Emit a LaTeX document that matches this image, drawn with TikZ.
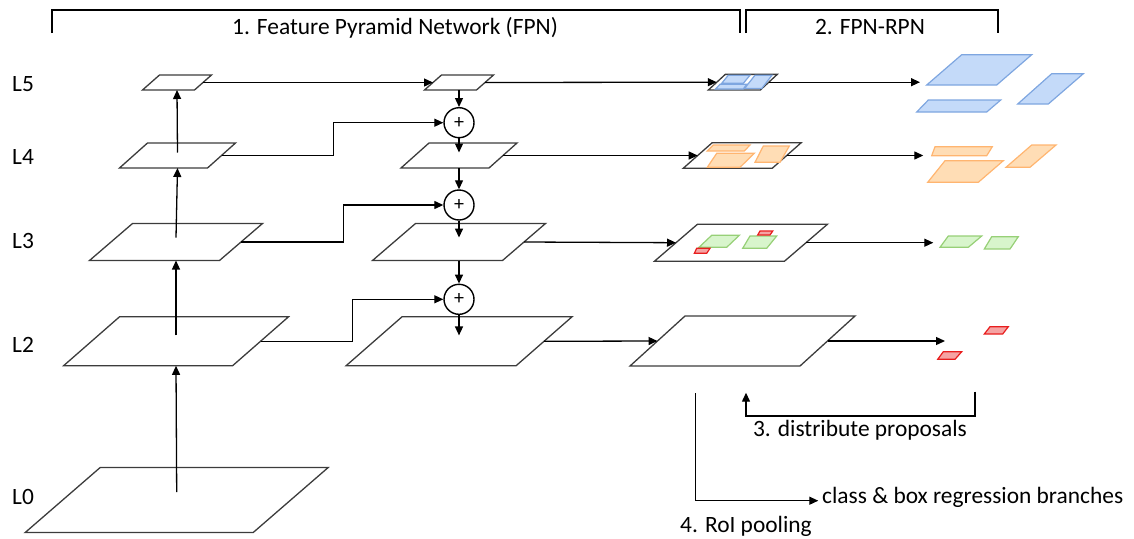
\documentclass[tikz,border=0pt]{standalone}
\usepackage{fontspec}
\setmainfont{Carlito}
\usetikzlibrary{arrows.meta,calc}

\definecolor{blueF}{HTML}{C4DAF9}
\definecolor{blueD}{HTML}{7EA6E0}
\definecolor{orangeF}{HTML}{FFDDB5}
\definecolor{orangeD}{HTML}{FFB570}
\definecolor{greenF}{HTML}{D8F5CC}
\definecolor{greenD}{HTML}{97D077}
\definecolor{redF}{HTML}{F5A3A3}
\definecolor{redD}{HTML}{E81E1E}
\definecolor{planeD}{HTML}{3C3C3C}

\tikzset{
  plane/.style={draw=planeD, fill=white, line width=1.3pt, line join=miter},
  flow/.style={draw=black, line width=1.3pt, -{Triangle[length=9pt,width=8pt]}},
  bracket/.style={draw=black, line width=1.8pt},
  sumnode/.style={circle, draw=black, line width=1.4pt, fill=white, minimum size=30pt, inner sep=0pt, font=\fontsize{20}{20}\selectfont},
  label/.style={font=\fontsize{23.4}{26}\selectfont, inner sep=0pt},
  pblue/.style={draw=blueD, fill=blueF, line width=1.2pt},
  porange/.style={draw=orangeD, fill=orangeF, line width=1.2pt},
  pgreen/.style={draw=greenD, fill=greenF, line width=1.2pt},
  pred/.style={draw=redD, fill=redF, line width=1.2pt},
}

% feature map: name, centre x, centre y, width, skew, height
\newcommand\layerplane[6]{%
  \path (#2,#3) coordinate (#1)
    ({#2-#4/2},#3) coordinate (#1-l)
    ({#2+#4/2},#3) coordinate (#1-r)
    (#2,{#3+#6/2}) coordinate (#1-b)
    (#2,{#3-#6/2}) coordinate (#1-t)
    (#2,{#3-0.12*#6}) coordinate (#1-s);
  \draw[plane] ({#2-#4/2-#5/2},{#3+#6/2}) -- ++(#4,0) -- ++(#5,-#6) -- ++(-#4,0) -- cycle;
}
% proposal box: style, four corners
\newcommand\propbox[5]{\draw[#1] (#2) -- (#3) -- (#4) -- (#5) -- cycle;}

\begin{document}
\begin{tikzpicture}[x=1pt, y=-1pt]
\useasboundingbox (0,0) rectangle (1134,538);

% ---- level labels
\node[label, anchor=base west] (lab5) at (12,91.5) {L5};
\node[label, anchor=base west] (lab4) at (12,164.5) {L4};
\node[label, anchor=base west] (lab3) at (12,248.5) {L3};
\node[label, anchor=base west] (lab2) at (12,352.5) {L2};
\node[label, anchor=base west] (lab0) at (12,504.5) {L0};

% ---- bottom-up pathway
\layerplane{A5}{177}{82.5}{52}{17}{15}
\layerplane{A4}{177.5}{155.5}{88}{28}{25}
\layerplane{A3}{176}{242}{130}{43}{37}
\layerplane{A2}{176}{341.3}{169}{56}{49}
\layerplane{A0}{176.7}{500}{228}{75}{65}

\draw[flow] (A0-s) -- (A2-b);
\draw[flow] (A2-s) -- (A3-b);
\draw[flow] (A3-s) -- (A4-b);
\draw[flow] (A4-s) -- (A5-b);

% ---- top-down pathway
\layerplane{B5}{459}{82.5}{52}{17}{15}
\layerplane{B4}{459}{155.5}{88}{28}{25}
\layerplane{B3}{459}{242}{130}{43}{37}
\layerplane{B2}{459}{341.3}{170}{56}{49}

\node[sumnode] (p1) at (459,122.7) {+};
\node[sumnode] (p2) at (459,205) {+};
\node[sumnode] (p3) at (459,299.3) {+};

\draw[flow] (A5-r) -- (B5-l);
\draw[flow] (B5-b) -- (p1.north);
\draw[flow] (p1.south) -- (B4-s);
\draw[flow] (B4-b) -- (p2.north);
\draw[flow] (p2.south) -- (B3-s);
\draw[flow] (B3-b) -- (p3.north);
\draw[flow] (p3.south) -- (B2-s);

% lateral connections
\coordinate (j1) at (333.3,0);
\coordinate (j2) at (343.3,0);
\coordinate (j3) at (352.7,0);
\draw[flow] (A4-r) -- (A4-r -| j1) -- (j1 |- p1.west) -- (p1.west);
\draw[flow] (A3-r) -- (A3-r -| j2) -- (j2 |- p2.west) -- (p2.west);
\draw[flow] (A2-r) -- (A2-r -| j3) -- (j3 |- p3.west) -- (p3.west);

% ---- RPN maps with proposals
\layerplane{C5}{742.8}{82.2}{52}{17}{15.7}
\layerplane{C4}{742.2}{155.5}{89}{29}{25.6}
\layerplane{C3}{741}{242.7}{130}{43}{37}
\layerplane{C2}{742.5}{341}{170}{55}{50}

\draw[flow] (B5-r) -- (C5-l);
\draw[flow] (B4-r) -- (C4-l);
\draw[flow] (B3-r) -- (C3-l);
\draw[flow] (B2-r) -- (C2-l);

% proposals on the maps
\propbox{pblue}{728.3,75.2}{750,75.2}{743.3,83.3}{721.7,83.3}
\propbox{pblue}{755,75.2}{772,75.2}{761.7,88.5}{744.5,88.5}
\propbox{pblue}{720,84.3}{746.7,84.3}{743.3,89}{715.5,89}

\propbox{porange}{713.3,145}{750,145}{744.3,151}{707.3,151}
\propbox{porange}{716.7,153.3}{754.3,153.3}{740,167.3}{707.3,167.3}
\propbox{porange}{763.3,146}{789.3,146}{780,162.3}{755,162.3}

\propbox{pgreen}{711.7,235.3}{739.3,235.3}{726.7,247.3}{699,247.3}
\propbox{pgreen}{750,236}{776.7,236}{766.7,248.3}{742.7,248.3}
\propbox{pred}{760,231}{772.7,231}{770,235}{757.7,235}
\propbox{pred}{696.7,248.3}{710,248.3}{706.7,253.3}{694.3,253.3}

% ---- proposals distributed per level
\coordinate (e5) at (920,82.2);
\coordinate (e4) at (923.3,155.5);
\coordinate (e3) at (933.3,242.7);
\coordinate (e2) at (945,341);
\draw[flow] (C5-r) -- (e5);
\draw[flow] (C4-r) -- (e4);
\draw[flow] (C3-r) -- (e3);
\draw[flow] (C2-r) -- (e2);

\propbox{pblue}{961.7,54.7}{1031.7,54.7}{996.7,85}{926.7,85}
\propbox{pblue}{928.3,100}{1000.7,100}{986.7,112}{916.7,112}
\propbox{pblue}{1051.7,73.7}{1083.3,73.7}{1048.3,104}{1017.7,104}

\propbox{porange}{935,146.7}{992.3,146.7}{986.7,155.7}{931.7,155.7}
\propbox{porange}{945,160.7}{1003.3,160.7}{978.3,182.3}{927.7,182.3}
\propbox{porange}{1031.7,145}{1056,145}{1030,167.3}{1006,167.3}

\propbox{pgreen}{948.3,236}{981.7,236}{968.3,247.3}{940,247.3}
\propbox{pgreen}{991.7,236.7}{1018.3,236.7}{1010,249}{984.3,249}

\propbox{pred}{990,326.7}{1008.3,326.7}{1002.7,334}{984.3,334}
\propbox{pred}{943.3,351.7}{961.7,351.7}{955,359.3}{937.7,359.3}

% ---- stage brackets
\coordinate (k1a) at (52,33);
\coordinate (k1b) at (740,33);
\coordinate (k2a) at (746,33);
\coordinate (k2b) at (998,33);
\draw[bracket] (k1a) -- ++(0,-23) -| (k1b);
\draw[bracket] (k2a) -- ++(0,-23) -| (k2b);
\node[label, anchor=base] (s1) at (395,34) {1. Feature Pyramid Network (FPN)};
\node[label, anchor=base] (s2) at (870,34) {2. FPN-RPN};

% distribute proposals
\coordinate (d1) at (975,391.7);
\coordinate (d2) at (746,392.7);
\draw[flow] (d1) -- (975,416) -- (746,416) -- (d2);
\node[label, anchor=base] (s3) at (860,436.7) {3. distribute proposals};

% RoI pooling
\coordinate (r1) at (695.7,393);
\coordinate (r2) at (818.3,500.7);
\draw[flow] (r1) |- (r2);
\node[label, anchor=base west] (s5) at (822,503) {class \& box regression branches};
\node[label, anchor=base] (s4) at (746,532.7) {4. RoI pooling};
\end{tikzpicture}
\end{document}
